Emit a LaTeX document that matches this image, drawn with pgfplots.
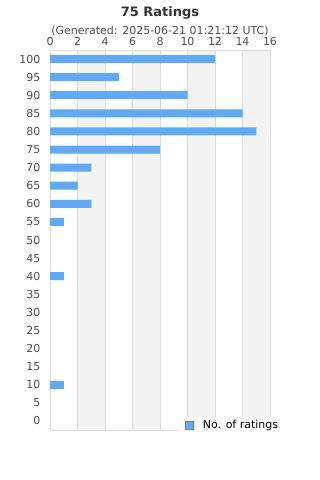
\documentclass[border=0pt]{standalone}
\usepackage{pgfplots}
\pgfplotsset{compat=1.18}
\usepackage{fontspec}
\setmainfont{DejaVu Sans}
\definecolor{barblue}{RGB}{98,169,243}
\definecolor{band}{RGB}{243,243,243}
\definecolor{gridc}{RGB}{221,221,221}
\definecolor{labc}{RGB}{80,80,80}
\definecolor{titc}{RGB}{51,51,51}
\begin{document}
\begin{tikzpicture}
\path (0bp,0bp) rectangle (320bp,480bp);
\node[font=\bfseries\fontsize{13bp}{15bp}\selectfont, text=titc] at (160bp,467.3bp) {75 Ratings};
\node[font=\fontsize{11bp}{13bp}\selectfont, text=labc] at (160bp,448.5bp) {(Generated: 2025-06-21 01:21:12 UTC)};
\begin{axis}[at={(50bp,50bp)}, anchor=south west, scale only axis,
  width=220bp, height=380bp, set layers,
  xmin=0, xmax=16, ymin=-2.5, ymax=102.5,
  xtick={0,2,...,16}, ytick={0,5,...,100},
  xticklabel pos=upper,
  xmajorgrids, grid style={gridc, line width=0.8bp},
  axis line style={gridc, line width=0.8bp},
  tick style={draw=none}, major tick length=0pt,
  ticklabel style={font=\fontsize{11bp}{13bp}\selectfont, text=labc},
  xticklabel style={yshift=1bp},
  yticklabel style={xshift=-6bp},
  /pgf/number format/assume math mode=true,
  legend style={at={(0.582,-0.008)}, anchor=south west, draw=none, fill=white,
    font=\fontsize{11bp}{13bp}\selectfont, inner xsep=7bp, inner ysep=1bp,
    nodes={inner xsep=4bp}, /tikz/column sep=5bp},
  legend image code/.code={\draw[fill=barblue, draw=gray, line width=0.6bp] (0bp,-4bp) rectangle (8bp,4bp);},
]
\addplot[fill=band, draw=none, forget plot, on layer=axis background] coordinates {(2,-2.5) (4,-2.5) (4,102.5) (2,102.5)} -- cycle;
\addplot[fill=band, draw=none, forget plot, on layer=axis background] coordinates {(6,-2.5) (8,-2.5) (8,102.5) (6,102.5)} -- cycle;
\addplot[fill=band, draw=none, forget plot, on layer=axis background] coordinates {(10,-2.5) (12,-2.5) (12,102.5) (10,102.5)} -- cycle;
\addplot[fill=band, draw=none, forget plot, on layer=axis background] coordinates {(14,-2.5) (16,-2.5) (16,102.5) (14,102.5)} -- cycle;
\addplot[xbar, bar width=8bp, fill=barblue, draw=none] coordinates {
(12,100) (5,95) (10,90) (14,85) (15,80) (8,75) (3,70) (2,65) (3,60) (1,55) (1,40) (1,10)
};
\addlegendentry{No. of ratings}
\end{axis}
\end{tikzpicture}
\end{document}
